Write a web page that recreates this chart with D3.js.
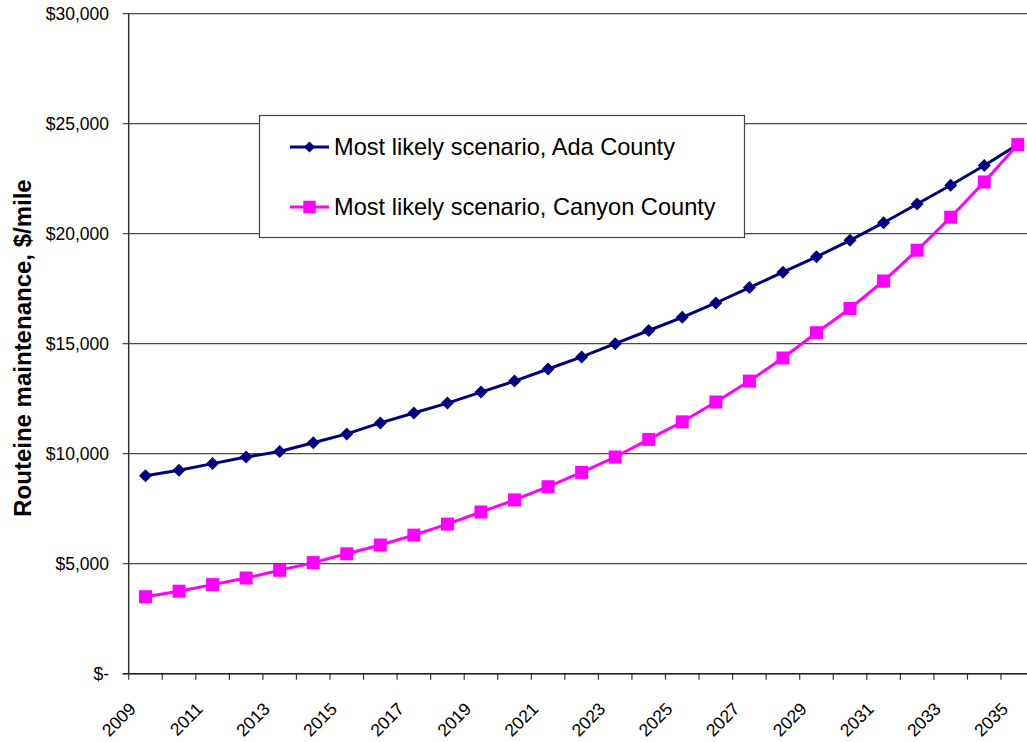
<!DOCTYPE html>
<html lang="en">
<head>
    <meta charset="UTF-8">
    <title>Routine maintenance per mile</title>
    <script src="https://d3js.org/d3.v7.min.js"></script>
    <style>
        body {
            margin: 0;
            background: #fff;
            font-family: Arial, "Liberation Sans", sans-serif;
        }
        svg {
            display: block;
        }
    </style>
</head>
<body>
    <svg width="1027" height="742"></svg>

    <script>
        // data
        const years = d3.range(2009, 2036);
        const adaValues = [9000, 9250, 9550, 9850, 10100, 10500, 10900, 11400, 11850, 12300,
                           12800, 13300, 13850, 14400, 15000, 15600, 16200, 16850, 17550, 18250,
                           18950, 19700, 20500, 21350, 22200, 23100, 24050];
        const canyonValues = [3500, 3750, 4050, 4350, 4700, 5050, 5450, 5850, 6300, 6800,
                              7350, 7900, 8500, 9150, 9850, 10650, 11450, 12350, 13300, 14350,
                              15500, 16600, 17850, 19250, 20750, 22350, 24050];
        const yTicks = [0, 5000, 10000, 15000, 20000, 25000, 30000];
        const yTickLabels = ["$-", "$5,000", "$10,000", "$15,000", "$20,000", "$25,000", "$30,000"];
        const xLabelYears = years.filter((d, i) => i % 2 === 0);
        const seriesNames = ["Most likely scenario, Ada County", "Most likely scenario, Canyon County"];
        const yTitle = "Routeine maintenance, $/mile";

        const svg = d3.select("svg");
        const plotLeft = 128.7, plotTop = 13.7, plotBottom = 673.7;
        const bandW = 33.55;
        const plotRight = plotLeft + bandW * years.length;

        const x = d3.scaleBand().domain(years).range([plotLeft, plotRight]).paddingInner(0).paddingOuter(0);
        const y = d3.scaleLinear().domain([0, 30000]).range([plotBottom, plotTop]);
        const cx = d => x(d) + x.bandwidth() / 2;

        // gridlines + y ticks
        svg.append("g").selectAll("line")
            .data(yTicks)
            .join("line")
            .attr("x1", plotLeft - 6).attr("x2", plotRight)
            .attr("y1", d => y(d)).attr("y2", d => y(d))
            .attr("stroke", "#4a4a4a")
            .attr("stroke-width", 1.2);

        svg.append("g").selectAll("text")
            .data(yTicks)
            .join("text")
            .attr("x", 109)
            .attr("y", d => y(d))
            .attr("dy", "0.35em")
            .attr("text-anchor", "end")
            .attr("font-size", 17.5)
            .attr("fill", "#000")
            .text((d, i) => yTickLabels[i]);

        // axes
        svg.append("line")
            .attr("x1", plotLeft).attr("x2", plotLeft)
            .attr("y1", plotTop).attr("y2", plotBottom)
            .attr("stroke", "#333").attr("stroke-width", 1.5);
        svg.append("line")
            .attr("x1", plotLeft - 6).attr("x2", plotRight)
            .attr("y1", plotBottom).attr("y2", plotBottom)
            .attr("stroke", "#222").attr("stroke-width", 1.4);

        // x ticks at band edges
        const edges = years.map(d => x(d)).concat([plotRight]);
        svg.append("g").selectAll("line")
            .data(edges)
            .join("line")
            .attr("x1", d => d).attr("x2", d => d)
            .attr("y1", plotBottom).attr("y2", plotBottom + 6)
            .attr("stroke", "#333").attr("stroke-width", 1.2);

        svg.append("g").selectAll("text")
            .data(xLabelYears)
            .join("text")
            .attr("transform", d => `translate(${cx(d) - 13},${plotBottom + 32}) rotate(-45)`)
            .attr("dy", "0.35em")
            .attr("text-anchor", "end")
            .attr("font-size", 17.5)
            .text(d => d);

        // y title
        svg.append("text")
            .attr("transform", `translate(31,348) rotate(-90)`)
            .attr("text-anchor", "middle")
            .attr("font-size", 24)
            .attr("font-weight", "bold")
            .text(yTitle);

        // series
        const line = d3.line().x((d, i) => cx(years[i])).y(d => y(d));
        const diamond = r => `M0,${-r}L${r},0L0,${r}L${-r},0Z`;
        const square = s => `M${-s / 2},${-s / 2}h${s}v${s}h${-s}Z`;

        const series = [
            { values: adaValues, color: "#000080", shape: diamond(6.5), legendShape: diamond(5.5) },
            { values: canyonValues, color: "#FF00FF", shape: square(13), legendShape: square(12.5) }
        ];

        series.forEach(s => {
            svg.append("path")
                .datum(s.values)
                .attr("d", line)
                .attr("fill", "none")
                .attr("stroke", s.color)
                .attr("stroke-width", 3);
            svg.append("g").selectAll("path")
                .data(s.values)
                .join("path")
                .attr("transform", (d, i) => `translate(${cx(years[i])},${y(d)})`)
                .attr("d", s.shape)
                .attr("fill", s.color);
        });

        // legend
        const lg = svg.append("g");
        lg.append("rect")
            .attr("x", 259.5).attr("y", 115.5)
            .attr("width", 485).attr("height", 122)
            .attr("fill", "#fff")
            .attr("stroke", "#444").attr("stroke-width", 1.2);
        const rowsY = [147, 207];
        series.forEach((s, i) => {
            lg.append("line")
                .attr("x1", 290).attr("x2", 329)
                .attr("y1", rowsY[i]).attr("y2", rowsY[i])
                .attr("stroke", s.color).attr("stroke-width", 3);
            lg.append("path")
                .attr("transform", `translate(309.5,${rowsY[i]})`)
                .attr("d", s.legendShape)
                .attr("fill", s.color);
            lg.append("text")
                .attr("x", 334)
                .attr("y", rowsY[i])
                .attr("dy", "0.35em")
                .attr("font-size", 23.6)
                .text(seriesNames[i]);
        });
    </script>
</body>
</html>
